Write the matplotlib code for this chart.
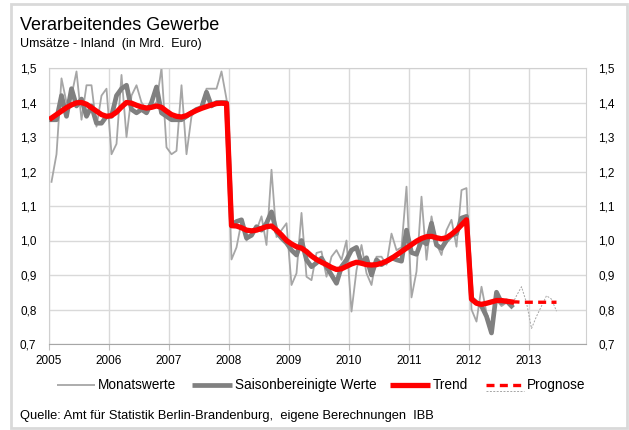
import numpy as np
import matplotlib
matplotlib.use('Agg')
import matplotlib.pyplot as plt
from matplotlib.lines import Line2D
from matplotlib.patches import Rectangle

plt.rcParams['font.family'] = ['Liberation Sans', 'DejaVu Sans']

# Monatswerte Jan 2005 - Sep 2012
monatswerte = [
    1.17, 1.25, 1.47, 1.40, 1.42, 1.49, 1.35, 1.45, 1.45, 1.33, 1.42, 1.44,   # 2005
    1.25, 1.28, 1.48, 1.30, 1.42, 1.45, 1.40, 1.38, 1.39, 1.40, 1.50, 1.27,   # 2006
    1.25, 1.26, 1.45, 1.25, 1.36, 1.38, 1.39, 1.44, 1.44, 1.44, 1.49, 1.41,   # 2007
    0.945, 0.98, 1.055, 1.00, 1.02, 1.03, 1.07, 0.987, 1.205, 1.01, 1.03, 1.05,  # 2008
    0.871, 0.905, 1.08, 0.895, 0.885, 0.964, 0.968, 0.895, 0.953, 0.972, 0.944, 1.00,  # 2009
    0.794, 0.914, 0.987, 0.905, 0.871, 0.953, 0.953, 0.93, 1.02, 0.972, 0.98, 1.156,  # 2010
    0.835, 0.91, 1.127, 0.944, 1.07, 0.99, 0.958, 1.03, 1.06, 0.982, 1.146, 1.152,  # 2011
    0.80, 0.765, 0.866, 0.79, 0.75, 0.827, 0.81, 0.82, 0.81,                   # 2012
]

saisonbereinigt = [
    1.35, 1.35, 1.42, 1.36, 1.44, 1.39, 1.41, 1.36, 1.39, 1.34, 1.34, 1.36,
    1.36, 1.42, 1.44, 1.45, 1.38, 1.37, 1.38, 1.37, 1.40, 1.445, 1.37, 1.36,
    1.35, 1.35, 1.35, 1.36, 1.37, 1.38, 1.385, 1.43, 1.39, 1.40, 1.40, 1.40,
    1.045, 1.055, 1.06, 1.007, 1.015, 1.04, 1.03, 1.05, 1.083, 1.025, 1.007, 0.993,
    0.972, 0.958, 1.00, 0.944, 0.924, 0.935, 0.949, 0.924, 0.90, 0.876, 0.924, 0.944,
    0.972, 0.98, 0.935, 0.95, 0.90, 0.944, 0.93, 0.94, 0.95, 0.944, 0.94, 1.03,
    0.965, 0.96, 1.00, 0.99, 1.05, 0.987, 0.977, 1.00, 1.015, 1.02, 1.065, 1.07,
    0.833, 0.82, 0.81, 0.78, 0.732, 0.85, 0.82, 0.825, 0.81,
]

trend = [
    1.355, 1.365, 1.375, 1.385, 1.393, 1.399, 1.40, 1.395, 1.385, 1.375, 1.365, 1.36,
    1.362, 1.372, 1.387, 1.40, 1.398, 1.392, 1.387, 1.384, 1.386, 1.39, 1.386, 1.375,
    1.365, 1.36, 1.358, 1.362, 1.37, 1.377, 1.383, 1.388, 1.393, 1.397, 1.398, 1.397,
    1.043, 1.042, 1.037, 1.03, 1.028, 1.03, 1.035, 1.04, 1.042, 1.03, 1.016, 1.0,
    0.99, 0.982, 0.978, 0.968, 0.955, 0.945, 0.937, 0.93, 0.922, 0.916, 0.918, 0.925,
    0.932, 0.937, 0.934, 0.93, 0.929, 0.93, 0.934, 0.94, 0.948, 0.958, 0.968, 0.978,
    0.988, 0.998, 1.006, 1.011, 1.012, 1.008, 1.005, 1.008, 1.018, 1.03, 1.045, 1.06,
    0.83, 0.818, 0.815, 0.818, 0.822, 0.826, 0.826, 0.824, 0.822,
]

# Prognose Sep 2012 - Jun 2013
prognose = [0.822, 0.822, 0.821, 0.821, 0.821, 0.821, 0.821, 0.821, 0.821, 0.821]
prognose_monat = [0.81, 0.84, 0.866, 0.82, 0.745, 0.78, 0.81, 0.84, 0.83, 0.795]

jahre = list(range(2005, 2014))
y_ticks = [0.7, 0.8, 0.9, 1.0, 1.1, 1.2, 1.3, 1.4, 1.5]
legend_labels = ['Monatswerte', 'Saisonbereinigte Werte', 'Trend', 'Prognose']

t = 2005 + (np.arange(len(monatswerte)) + 0.5) / 12
t_prog = 2005 + (np.arange(len(prognose)) + len(monatswerte) - 1 + 0.5) / 12

W, H = 629, 430
fig = plt.figure(figsize=(W / 100, H / 100), dpi=100)
ax = fig.add_axes([49/W, 1 - 344/H, (586 - 49)/W, (344 - 68)/H])

stil_monat = dict(color='#a6a6a6', lw=1.3)
stil_saison = dict(color='#808080', lw=3.4)
stil_trend = dict(color='#ff0000', lw=3.8)
stil_prog = dict(color='#ff0000', lw=2.4, ls=(0, (2.4, 1.6)))
stil_prog_monat = dict(color='#a6a6a6', lw=0.7, ls=(0, (2, 1.5)))

ax.plot(t, monatswerte, zorder=2, **stil_monat)
ax.plot(t, saisonbereinigt, zorder=3, **stil_saison)
ax.plot(t_prog, prognose_monat, zorder=2, **stil_prog_monat)
ax.plot(t, trend, zorder=4, solid_joinstyle='round', **stil_trend)
ax.plot(t_prog, prognose, zorder=4, **stil_prog)

ax.set_xlim(2005, 2013.95)
ax.set_ylim(0.7, 1.5)
ax.set_xticks(jahre)
ax.set_xticklabels([str(j) for j in jahre])
ax.set_yticks(y_ticks)
ax.set_yticklabels([('%.1f' % v).replace('.', ',') for v in y_ticks])
ax.grid(True, color='#d9d9d9', lw=1)
ax.set_axisbelow(True)
for s in ax.spines.values():
    s.set_color('#d0d0d0')
ax.spines['bottom'].set_color('#a6a6a6')
ax.tick_params(axis='x', length=4, color='#bfbfbf', labelsize=8.5, pad=4)
ax.tick_params(axis='y', length=0, labelsize=8.5, pad=9, labelright=True)

fig.text(20/W, 1 - 30/H, 'Verarbeitendes Gewerbe', fontsize=13)
fig.text(20/W, 1 - 47/H, 'Umsätze - Inland  (in Mrd.  Euro)', fontsize=9)
fig.text(20/W, 1 - 419/H, 'Quelle: Amt für Statistik Berlin-Brandenburg,  eigene Berechnungen  IBB', fontsize=9.3)

# Legende von Hand gesetzt (Positionen in Pixel)
ly = 1 - 385/H
legend_pos = [(57, 95), (192, 232), (390, 430), (486, 524)]
stile = [stil_monat, stil_saison, stil_trend, stil_prog]
for (x0, x1), lab, st in zip(legend_pos, legend_labels, stile):
    fig.add_artist(Line2D([x0/W, x1/W], [ly, ly], transform=fig.transFigure, solid_capstyle='butt', **st))
    fig.text((x1 + 3)/W, ly, lab, fontsize=9.8, va='center')
fig.add_artist(Line2D([486/W, 524/W], [1 - 391/H, 1 - 391/H], transform=fig.transFigure, **stil_prog_monat))

fig.patches.append(Rectangle((11/W, 2/H), 616/W, 424/H, transform=fig.transFigure,
                             fill=False, edgecolor='#d9d9d9', lw=2))

fig.savefig('out.png', dpi=100)
